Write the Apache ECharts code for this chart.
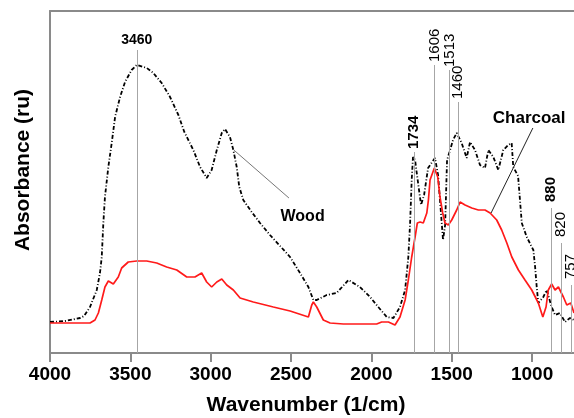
<!DOCTYPE html>
<html>
<head>
<meta charset="utf-8">
<script src="https://cdn.jsdelivr.net/npm/echarts@6/dist/echarts.min.js"></script>
<style>
  html, body { margin: 0; padding: 0; background: #fff; }
  #chart { width: 574px; height: 418px; }
</style>
</head>
<body>
<div id="chart"></div>
<script>
// spectra (wavenumber 1/cm, absorbance in arbitrary units)
const WOOD_WN = [4000, 3907, 3813, 3788, 3751, 3709, 3689, 3678, 3668, 3658, 3637, 3616, 3595, 3564, 3533, 3492, 3460,
  3398, 3357, 3305, 3253, 3201, 3164, 3108, 3066, 3025, 2994, 2962, 2931, 2911, 2880, 2859, 2838, 2822, 2797,
  2745, 2693, 2631, 2568, 2506, 2444, 2392, 2361, 2340, 2278, 2216, 2143, 2071, 2008, 1957, 1904, 1863, 1822,
  1790, 1770, 1759, 1749, 1741, 1728, 1716, 1691, 1672, 1647, 1622, 1604, 1585, 1566, 1554, 1541, 1529, 1510,
  1492, 1469, 1438, 1407, 1386, 1355, 1324, 1293, 1272, 1241, 1210, 1179, 1148, 1127, 1117, 1087, 1064, 1033,
  992, 981, 971, 961, 930, 909, 878, 857, 826, 795, 764, 739]
const WOOD_ABS = [31, 32, 35, 37, 46, 63, 80, 96, 130, 156, 186, 210, 236, 256, 271, 283, 288,
  285, 280, 270, 256, 238, 221, 203, 186, 175, 183, 203, 220, 224, 216, 203, 186, 166, 153,
  141, 130, 118, 107, 96, 80, 66, 53, 53, 58, 60, 73, 66, 56, 46, 36, 35, 46,
  63, 96, 130, 173, 196, 193, 178, 148, 158, 185, 191, 195, 178, 138, 113, 128, 193, 203,
  213, 220, 210, 195, 211, 203, 188, 185, 203, 196, 183, 203, 208, 210, 186, 177, 130, 116,
  103, 86, 66, 50, 56, 63, 46, 38, 40, 31, 35, 33]

const CHAR_WN = [4000, 3876, 3751, 3720, 3699, 3678, 3658, 3637, 3606, 3575, 3554, 3513, 3460, 3398, 3336, 3274,
  3211, 3149, 3098, 3056, 3025, 2994, 2962, 2931, 2900, 2859, 2817, 2735, 2610, 2506, 2392, 2371, 2361, 2340,
  2299, 2257, 2174, 1967, 1936, 1894, 1853, 1822, 1790, 1770, 1749, 1728, 1714, 1697, 1677, 1655, 1645, 1635,
  1608, 1587, 1573, 1556, 1542, 1521, 1500, 1469, 1448, 1417, 1375, 1334, 1293, 1261, 1220, 1189, 1157, 1126,
  1085, 1044, 1002, 961, 933, 913, 899, 878, 857, 836, 805, 784, 759, 739]
const CHAR_ABS = [30, 30, 30, 33, 40, 53, 66, 72, 69, 76, 85, 91, 92, 92, 90, 86,
  83, 76, 76, 80, 71, 66, 71, 74, 68, 63, 55, 51, 46, 42, 36, 48, 51, 46,
  33, 30, 29, 29, 31, 31, 28, 36, 53, 73, 96, 116, 130, 131, 130, 140, 153, 173,
  185, 176, 156, 140, 130, 128, 133, 143, 151, 148, 145, 143, 143, 140, 133, 123, 110, 96,
  83, 73, 63, 50, 36, 46, 63, 69, 63, 66, 56, 48, 50, 40]

// marked bands and how high each marker line reaches
const BAND_WN = [3460, 1734, 1606, 1513, 1460, 880, 820, 757]
const BAND_TOP = [303, 201, 288, 283, 251, 145, 110, 68]
const BAND_BOLD = [true, true, false, false, false, true, false, false]

const X_TICKS = [4000, 3500, 3000, 2500, 2000, 1500, 1000]

// callout text and leader lines [from, to]
const NOTE_TEXT = ['Wood', 'Charcoal']
const NOTE_POS = [[2428, 136], [1018, 235]]
const NOTE_LINE = [
  [[2856, 203], [2513, 155]],
  [[1255, 140], [995, 225]],
]

const FONT = '"Liberation Sans", Arial, sans-serif'
const AXIS_GREY = '#8a8a8a'
const INK = '#000'

const zip = (xs, ys) => xs.map((x, i) => [x, ys[i]])

const chart = echarts.init(document.getElementById('chart'), null, { renderer: 'canvas' })

chart.setOption({
  animation: false,
  backgroundColor: '#fff',
  grid: { left: 50, right: 0, top: 11, bottom: 65, containLabel: false, outerBoundsMode: 'none' },
  xAxis: [
    {
      type: 'value',
      min: 739,
      max: 4000,
      inverse: true,
      name: 'Wavenumber (1/cm)',
      nameLocation: 'middle',
      nameGap: 42,
      nameTextStyle: { fontFamily: FONT, fontSize: 21, fontWeight: 'bold', color: INK, padding: [0, 12, 0, 0] },
      axisLine: { show: true, onZero: false, lineStyle: { color: AXIS_GREY, width: 2 } },
      axisTick: { show: true, inside: false, length: 9, customValues: X_TICKS, lineStyle: { color: AXIS_GREY, width: 2 } },
      axisLabel: {
        customValues: X_TICKS,
        formatter: (v) => String(v),
        margin: 12,
        fontFamily: FONT,
        fontSize: 19,
        fontWeight: 'bold',
        color: INK,
      },
      splitLine: { show: false },
    },
    {
      type: 'value',
      position: 'top',
      min: 739,
      max: 4000,
      inverse: true,
      axisLine: { show: true, onZero: false, lineStyle: { color: AXIS_GREY, width: 2 } },
      axisTick: { show: false },
      axisLabel: { show: false },
      splitLine: { show: false },
    },
  ],
  yAxis: {
    type: 'value',
    min: 0,
    max: 342,
    name: 'Absorbance (ru)',
    nameLocation: 'middle',
    nameGap: 16,
    nameTextStyle: { fontFamily: FONT, fontSize: 21, fontWeight: 'bold', color: INK, padding: [0, 0, 0, 24] },
    axisLine: { show: true, onZero: false, lineStyle: { color: AXIS_GREY, width: 2 } },
    axisTick: { show: false },
    axisLabel: { show: false },
    splitLine: { show: false },
  },
  series: [
    {
      name: 'bands',
      type: 'scatter',
      silent: true,
      symbolSize: 0,
      itemStyle: { opacity: 1 },
      z: 1,
      data: BAND_WN.map((w, i) => ({
        value: [w, BAND_TOP[i]],
        label: i === 0
          ? {
              show: true, position: 'top', distance: 3, formatter: String(w),
              fontFamily: FONT, fontWeight: 'bold', fontSize: 14, color: INK,
            }
          : {
              show: true,
              position: 'top',
              distance: 3,
              rotate: 90,
              align: 'left',
              verticalAlign: 'middle',
              offset: [i >= 5 ? 3 : 0, 0],
              formatter: String(w),
              fontFamily: FONT,
              fontWeight: BAND_BOLD[i] ? 'bold' : 'normal',
              fontSize: 15,
              color: INK,
            },
      })),
      markLine: {
        silent: true,
        symbol: ['none', 'none'],
        label: { show: false },
        lineStyle: { color: '#a6a6a6', width: 1, type: 'solid' },
        data: BAND_WN.map((w, i) => [{ coord: [w, 0] }, { coord: [w, BAND_TOP[i]] }]),
      },
    },
    {
      name: 'Wood',
      type: 'line',
      data: zip(WOOD_WN, WOOD_ABS),
      showSymbol: false,
      z: 3,
      lineStyle: { color: '#000', width: 1.8, type: [4, 2, 1, 2] },
    },
    {
      name: 'Charcoal',
      type: 'line',
      data: zip(CHAR_WN, CHAR_ABS),
      showSymbol: false,
      z: 4,
      lineStyle: { color: '#ff1a1a', width: 1.7 },
    },
    {
      name: 'notes',
      type: 'scatter',
      silent: true,
      symbolSize: 0,
      itemStyle: { opacity: 1 },
      z: 5,
      data: NOTE_TEXT.map((t, i) => ({
        value: NOTE_POS[i],
        label: {
          show: true, position: 'inside', formatter: t,
          fontFamily: FONT, fontWeight: 'bold', fontSize: i === 0 ? 16 : 17, color: INK,
        },
      })),
      markLine: {
        silent: true,
        symbol: ['none', 'none'],
        label: { show: false },
        data: NOTE_LINE.map((seg, i) => [
          { coord: seg[0], lineStyle: { color: i === 0 ? '#777' : '#222', width: 1, type: 'solid' } },
          { coord: seg[1] },
        ]),
      },
    },
  ],
})
</script>
</body>
</html>
